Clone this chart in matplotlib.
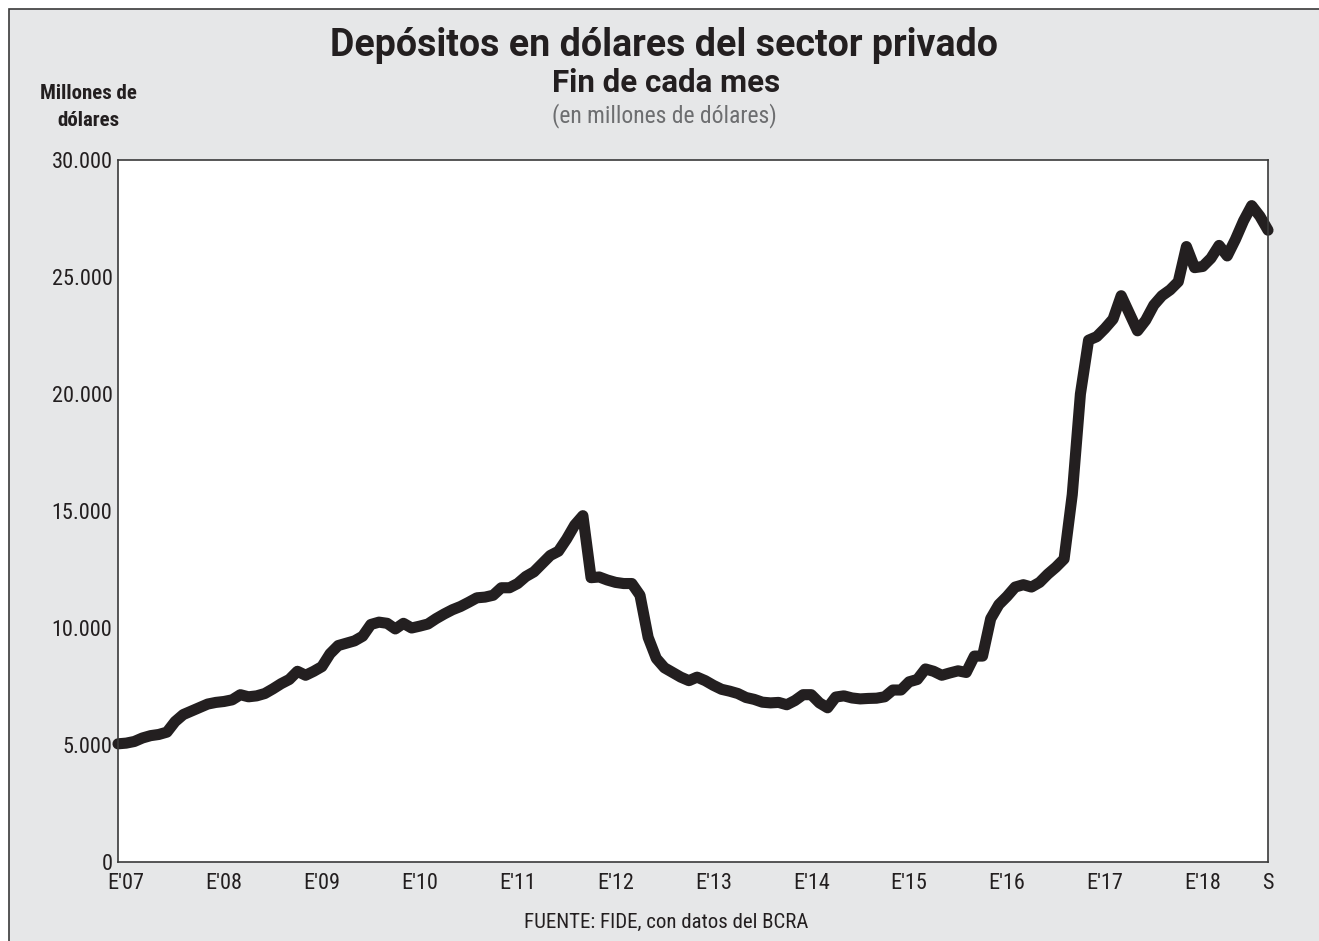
import numpy as np
import matplotlib.pyplot as plt
from matplotlib.patches import Rectangle

# Depósitos privados en dólares, fin de cada mes (millones de USD), dic-06 a sep-18
depositos = [
    5050, 5080, 5150, 5300, 5400, 5450, 5550, 6000, 6300, 6450, 6600, 6750,   # dic06-nov07
    6820, 6860, 6930, 7150, 7060, 7100, 7200, 7400, 7620, 7800, 8150, 7980,   # dic07-nov08
    8150, 8350, 8900, 9250, 9350, 9450, 9650, 10150, 10250, 10200, 9960, 10200,  # dic08-nov09
    10000, 10080, 10170, 10400, 10600, 10780, 10920, 11100, 11290, 11320, 11400, 11720,  # dic09-nov10
    11720, 11900, 12200, 12400, 12750, 13100, 13280, 13800, 14400, 14800, 12150, 12180,  # dic10-nov11
    12050, 11950, 11900, 11900, 11400, 9600, 8700, 8300, 8100, 7900, 7750, 7900,  # dic11-nov12
    7750, 7550, 7380, 7300, 7200, 7030, 6950, 6830, 6800, 6820, 6720, 6900,   # dic12-nov13
    7150, 7150, 6800, 6590, 7050, 7100, 7010, 6970, 6990, 7000, 7060, 7350,   # dic13-nov14
    7350, 7700, 7800, 8250, 8150, 7980, 8080, 8170, 8100, 8800, 8800, 10400,  # dic14-nov15
    11000, 11350, 11750, 11850, 11750, 11950, 12300, 12600, 12950, 15700, 20000, 22300,  # dic15-nov16
    22450, 22800, 23200, 24200, 23450, 22700, 23150, 23800, 24200, 24450, 24800, 26300,  # dic16-nov17
    25400, 25450, 25800, 26350, 25900, 26600, 27400, 28050, 27600, 27000,     # dic17-sep18
]

tick_pos = [1, 13, 25, 37, 49, 61, 73, 85, 97, 109, 121, 133, 141]
tick_labels = ["E'07", "E'08", "E'09", "E'10", "E'11", "E'12", "E'13",
               "E'14", "E'15", "E'16", "E'17", "E'18", "S"]
y_ticks = [0, 5000, 10000, 15000, 20000, 25000, 30000]
y_labels = ["0", "5.000", "10.000", "15.000", "20.000", "25.000", "30.000"]

narrow = ['Roboto Condensed', 'Liberation Sans', 'DejaVu Sans']
heading = ['Roboto', 'DejaVu Sans']
bg = '#e6e7e8'
ink = '#231f20'

fig = plt.figure(figsize=(13.19, 9.41), dpi=100, facecolor='white')

# panel gris con borde arriba e izquierda
fig.patches.append(Rectangle((9 / 1319, -0.1), 1.2, 1 - 9 / 941 + 0.1,
                             transform=fig.transFigure, facecolor=bg,
                             edgecolor='#3a3a3a', linewidth=1.2, zorder=-5))

ax = fig.add_axes([118 / 1319, 79 / 941, 1150 / 1319, 702 / 941])
ax.set_facecolor('white')

x = np.arange(len(depositos))
ax.plot(x, depositos, color=ink, linewidth=8, solid_joinstyle='round',
        solid_capstyle='round', clip_on=False)

ax.set_xlim(0, len(depositos) - 1)
ax.set_ylim(0, 30000)
ax.set_xticks(tick_pos)
ax.set_xticklabels(tick_labels, fontsize=16, family=narrow, color=ink)
ax.set_yticks(y_ticks)
ax.set_yticklabels(y_labels, fontsize=16, family=narrow, color=ink)
ax.tick_params(axis='both', length=0)
ax.tick_params(axis='y', pad=4)
ax.tick_params(axis='x', pad=8)
for s in ax.spines.values():
    s.set_color('#3a3a3a')
    s.set_linewidth(1.2)

fig.text(664 / 1319, 1 - 46 / 941, 'Depósitos en dólares del sector privado',
         ha='center', va='center', fontsize=27, fontweight='bold',
         family=heading, color=ink)
fig.text(666 / 1319, 1 - 83 / 941, 'Fin de cada mes', ha='center', va='center',
         fontsize=22.5, fontweight='bold', family=heading, color=ink)
fig.text(664 / 1319, 1 - 116 / 941, '(en millones de dólares)', ha='center',
         va='center', fontsize=17, family=narrow, color='#6d6e70')
fig.text(88 / 1319, 1 - 107 / 941, 'Millones de\ndólares', ha='center',
         va='center', fontsize=15, fontweight='bold', family=narrow,
         color=ink, linespacing=1.55)
fig.text(666 / 1319, 1 - 922 / 941, 'FUENTE: FIDE, con datos del BCRA',
         ha='center', va='center', fontsize=15, family=narrow, color=ink)

fig.savefig('out.png', dpi=100, facecolor='white')
